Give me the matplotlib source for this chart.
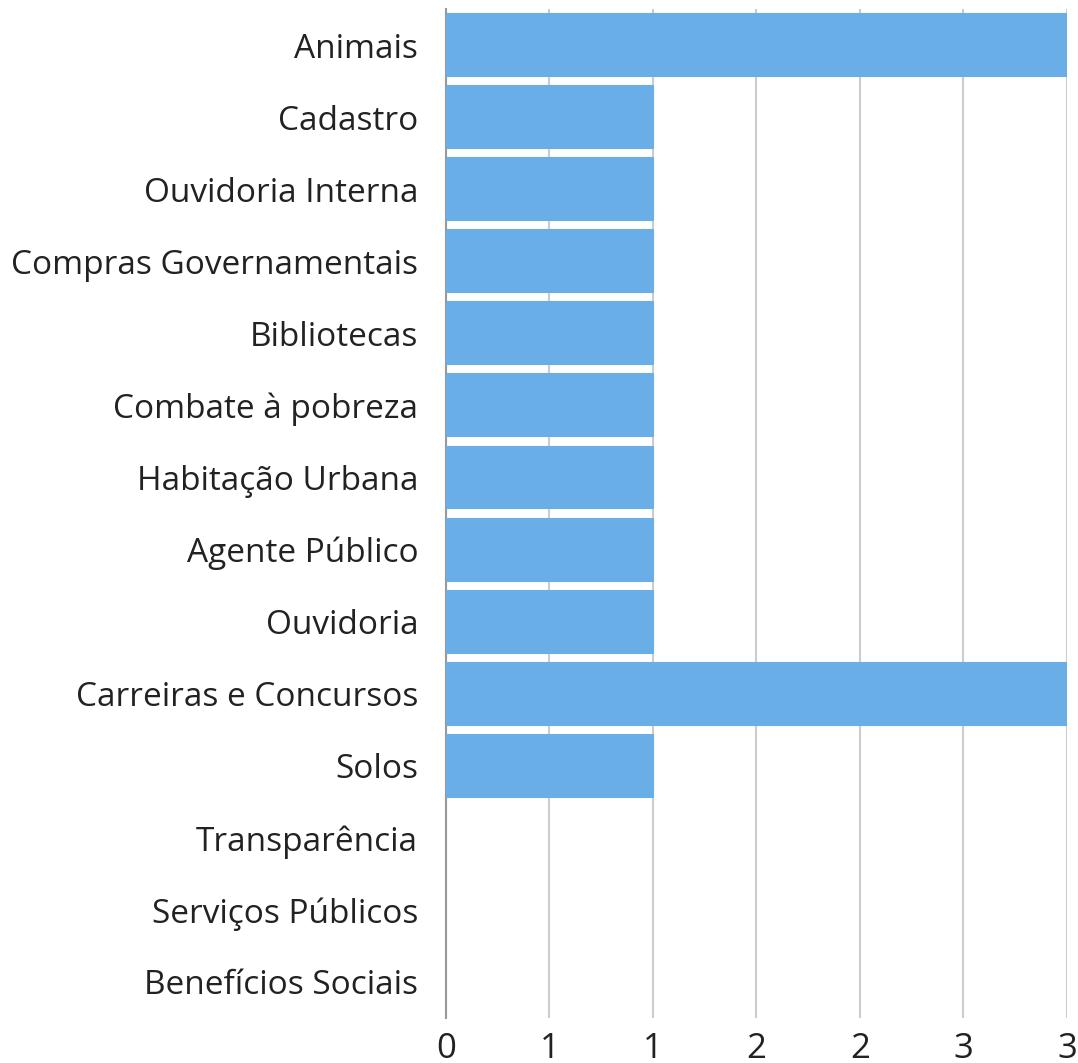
import matplotlib
matplotlib.use("Agg")
import matplotlib.pyplot as plt  # noqa: E402

categories = [
    "Animais", "Cadastro", "Ouvidoria Interna", "Compras Governamentais",
    "Bibliotecas", "Combate à pobreza", "Habitação Urbana", "Agente Público",
    "Ouvidoria", "Carreiras e Concursos", "Solos", "Transparência",
    "Serviços Públicos", "Benefícios Sociais",
]
values = [3, 1, 1, 1, 1, 1, 1, 1, 1, 3, 1, 0, 0, 0]
x_ticks = [0, 0.5, 1, 1.5, 2, 2.5, 3]
x_tick_labels = ["0", "1", "1", "2", "2", "3", "3"]

plt.rcParams["font.family"] = ["Open Sans", "DejaVu Sans"]

fig = plt.figure(figsize=(10.78, 10.63), dpi=100)
ax = fig.add_axes([0.4137, 0.0423, 0.5761, 0.9492])

pos = list(range(len(categories)))
bars = ax.barh(pos, values, height=0.86, color="#6aaee8",
               edgecolor="#6aaee8", linewidth=1.5, zorder=3)
for b, v in zip(bars, values):
    b.set_joinstyle("round")
    if v == 0:
        b.set_edgecolor("none")

ax.set_ylim(len(categories) - 0.5, -0.5)
ax.set_xlim(0, 3)
ax.set_yticks(pos)
ax.set_yticklabels(categories, fontsize=24, color="#222222")
ax.set_xticks(x_ticks)
ax.set_xticklabels(x_tick_labels, fontsize=25, color="#222222")
ax.tick_params(axis="y", length=0, pad=20)
ax.tick_params(axis="x", length=0, pad=10)

ax.grid(axis="x", color="#cccccc", linewidth=1.5, zorder=0)
for s in ["top", "right", "bottom"]:
    ax.spines[s].set_visible(False)
ax.spines["left"].set_color("#999999")
ax.spines["left"].set_linewidth(1.5)

fig.savefig("out.png", dpi=100)
